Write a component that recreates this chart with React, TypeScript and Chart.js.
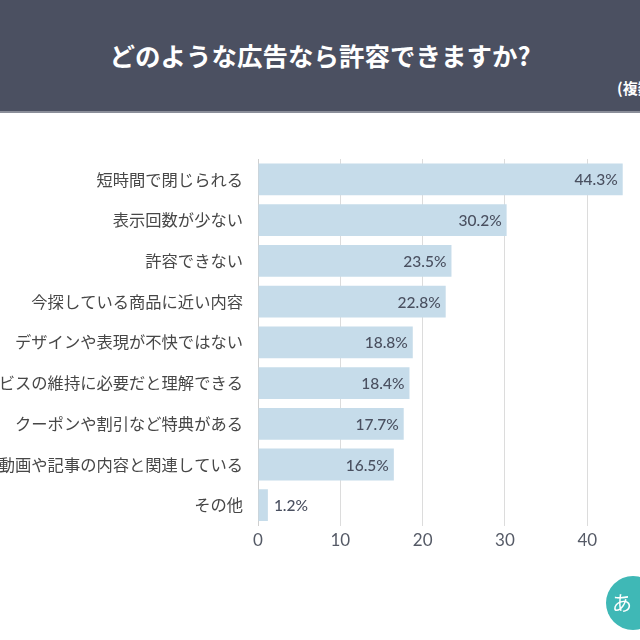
import React, { useEffect, useRef } from "react";
import { Chart, registerables } from "chart.js";

Chart.register(...registerables);

const TITLE = "どのような広告なら許容できますか?";
const NOTE = "(複数回答)";
const categories = [
  "短時間で閉じられる",
  "表示回数が少ない",
  "許容できない",
  "今探している商品に近い内容",
  "デザインや表現が不快ではない",
  "サービスの維持に必要だと理解できる",
  "クーポンや割引など特典がある",
  "動画や記事の内容と関連している",
  "その他",
];
const values = [44.3, 30.2, 23.5, 22.8, 18.8, 18.4, 17.7, 16.5, 1.2];
const xTicks = [0, 10, 20, 30, 40];

const JP = "'Noto Sans CJK JP', 'Noto Sans', sans-serif";
const NUM = "Lato, 'Noto Sans', sans-serif";

const valueLabels = {
  id: "valueLabels",
  afterDatasetsDraw(chart: any) {
    const ctx = chart.ctx;
    const meta = chart.getDatasetMeta(0);
    ctx.save();
    ctx.font = `500 15.5px ${NUM}`;
    ctx.fillStyle = "#4a5060";
    ctx.textBaseline = "middle";
    meta.data.forEach((bar: any, i: number) => {
      const txt = values[i].toFixed(1) + "%";
      const w = ctx.measureText(txt).width;
      const barW = bar.x - bar.base;
      if (barW > w + 12) {
        ctx.textAlign = "right";
        ctx.fillText(txt, bar.x - 5, bar.y + 1);
      } else {
        ctx.textAlign = "left";
        ctx.fillText(txt, bar.x + 6, bar.y + 1);
      }
    });
    ctx.restore();
  },
};

export default function App() {
  const ref = useRef<HTMLCanvasElement>(null);
  useEffect(() => {
    const chart = new Chart(ref.current!, {
      type: "bar",
      data: {
        labels: categories,
        datasets: [
          {
            data: values,
            backgroundColor: "#c6dcea",
            borderWidth: 0,
            barPercentage: 0.78,
            categoryPercentage: 1,
          },
        ],
      },
      options: {
        indexAxis: "y",
        animation: false,
        responsive: false,
        maintainAspectRatio: false,
        layout: { padding: { top: 46, bottom: 84, left: 0, right: 0 } },
        plugins: { legend: { display: false }, tooltip: { enabled: false } },
        scales: {
          x: {
            min: 0,
            max: 46.4,
            afterBuildTicks: (scale: any) => {
              scale.ticks = xTicks.map((v) => ({ value: v }));
            },
            ticks: {
              color: "#555a66",
              font: { family: NUM, size: 17 },
              padding: 5,
            },
            grid: { color: "#dcdcdc", drawTicks: false, lineWidth: 1 },
            border: { display: false },
          },
          y: {
            afterFit: (scale: any) => {
              scale.width = 258;
            },
            ticks: {
              color: "#474747",
              font: { family: JP, size: 16.3 },
              padding: 15,
              autoSkip: false,
            },
            grid: { display: false, drawTicks: false },
            border: { display: true, color: "#cfcfcf", width: 1 },
          },
        },
      },
      plugins: [valueLabels],
    });
    return () => chart.destroy();
  }, []);

  return (
    <div
      style={{
        position: "fixed",
        left: 0,
        top: 0,
        width: 640,
        height: 640,
        overflow: "hidden",
        background: "#ffffff",
      }}
    >
      <div
        style={{
          position: "absolute",
          left: 0,
          top: 0,
          width: 640,
          height: 111,
          background: "#4b5061",
          borderBottom: "2px solid #8a8e99",
        }}
      >
        <div
          style={{
            position: "absolute",
            left: 0,
            width: 640,
            top: 38,
            textAlign: "center",
            color: "#ffffff",
            fontFamily: JP,
            fontWeight: 700,
            fontSize: 25.5,
            lineHeight: "34px",
          }}
        >
          {TITLE}
        </div>
        <div
          style={{
            position: "absolute",
            left: 617,
            top: 77,
            color: "#ffffff",
            fontFamily: JP,
            fontWeight: 700,
            fontSize: 15,
            lineHeight: "22px",
            whiteSpace: "nowrap",
          }}
        >
          {NOTE}
        </div>
      </div>
      <canvas
        ref={ref}
        width={640}
        height={527}
        style={{ position: "absolute", left: 0, top: 113, width: 640, height: 527 }}
      />
      <div
        style={{
          position: "absolute",
          left: 606,
          top: 576,
          width: 54,
          height: 54,
          borderRadius: "50%",
          background: "#3fb8b6",
          color: "#ffffff",
          fontFamily: JP,
          fontSize: 20,
          lineHeight: "54px",
          paddingLeft: 6,
          boxSizing: "border-box",
        }}
      >
        あ
      </div>
    </div>
  );
}
